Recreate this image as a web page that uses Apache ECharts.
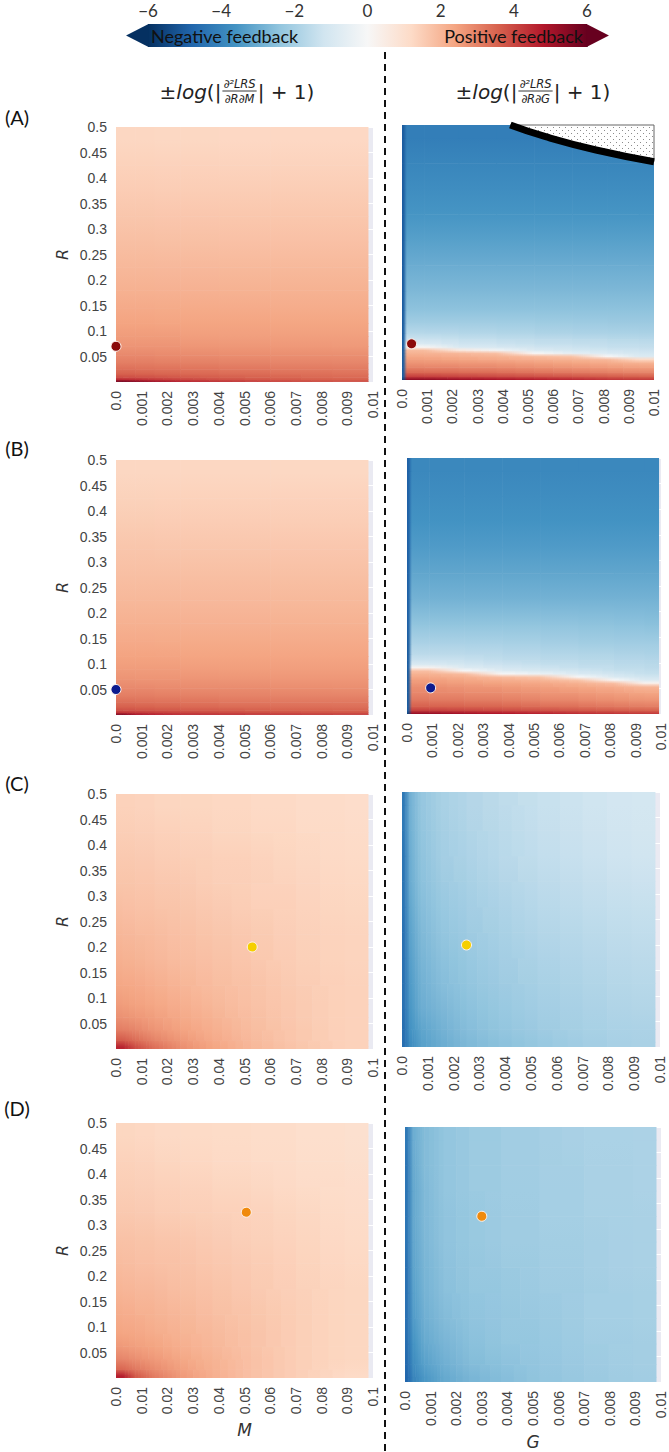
<!DOCTYPE html>
<html>
<head>
<meta charset="utf-8">
<script src="https://cdn.jsdelivr.net/npm/echarts/dist/echarts.min.js"></script>
<style>
  html, body { margin: 0; padding: 0; background: #fff; }
  #chart { width: 669px; height: 1452px; }
</style>
</head>
<body>
<div id="chart"></div>
<script>
// ---- tick labels ----
var xTicksMilli = ['0.0', '0.001', '0.002', '0.003', '0.004', '0.005', '0.006', '0.007', '0.008', '0.009', '0.01'];
var xTicksCenti = ['0.0', '0.01', '0.02', '0.03', '0.04', '0.05', '0.06', '0.07', '0.08', '0.09', '0.1'];
var yTicks = ['', '0.05', '0.1', '0.15', '0.2', '0.25', '0.3', '0.35', '0.4', '0.45', '0.5'];
var cbTicks = ['\u22126', '\u22124', '\u22122', '0', '2', '4', '6'];

// ---- cell edges (M / G along x, R along y) ----
var mEdgesAB = [0, 0.0005, 0.001, 0.002, 0.003, 0.005, 0.007, 0.0098];
var rEdgesLeftAB = [0, 0.003, 0.007, 0.012, 0.02, 0.03, 0.045, 0.06, 0.08, 0.1, 0.13, 0.16, 0.2, 0.25, 0.3, 0.35, 0.4, 0.45, 0.5];
var gEdgesA = [0, 0.00012, 0.00025, 0.0015, 0.003, 0.0045, 0.006, 0.0075, 0.0088, 0.01];
var rEdgesRightA = [0, 0.004, 0.01, 0.02, 0.03, 0.038, 0.044, 0.05, 0.056, 0.062, 0.068, 0.075, 0.085, 0.1, 0.125, 0.15, 0.2, 0.25, 0.3, 0.35, 0.4, 0.45, 0.5];
var gEdgesB = [0, 0.00012, 0.00025, 0.0015, 0.003, 0.0045, 0.006, 0.0075, 0.0088, 0.0099];
var rEdgesRightB = [0, 0.004, 0.01, 0.02, 0.035, 0.05, 0.058, 0.064, 0.07, 0.076, 0.082, 0.088, 0.094, 0.1, 0.11, 0.125, 0.15, 0.2, 0.25, 0.3, 0.35, 0.4, 0.45, 0.5];
var mEdgesCD = [0, 0.005, 0.01, 0.02, 0.03, 0.045, 0.06, 0.08, 0.098];
var rEdgesLeftCD = [0, 0.01, 0.025, 0.05, 0.075, 0.1, 0.15, 0.2, 0.25, 0.3, 0.35, 0.4, 0.45, 0.5];
var gEdgesCD = [0, 0.00015, 0.0005, 0.001, 0.002, 0.003, 0.0045, 0.006, 0.008, 0.0098];
var rEdgesRightCD = [0, 0.02, 0.05, 0.1, 0.15, 0.2, 0.25, 0.3, 0.35, 0.4, 0.45, 0.5];

// ---- values, rows listed from R=0 upwards ----
var valuesALeft = [
  [5.8, 5.5, 5.1, 4.7, 4.4, 4.1, 3.9],
  [4.6, 4.5, 4.3, 4.1, 3.9, 3.75, 3.6],
  [3.95, 3.9, 3.85, 3.75, 3.65, 3.55, 3.45],
  [3.6, 3.6, 3.55, 3.5, 3.45, 3.4, 3.3],
  [3.35, 3.35, 3.3, 3.3, 3.25, 3.2, 3.15],
  [3.1, 3.1, 3.1, 3.05, 3.05, 3.0, 2.95],
  [2.9, 2.9, 2.9, 2.85, 2.85, 2.8, 2.8],
  [2.7, 2.7, 2.7, 2.7, 2.65, 2.65, 2.6],
  [2.55, 2.55, 2.55, 2.55, 2.5, 2.5, 2.5],
  [2.42, 2.42, 2.42, 2.4, 2.4, 2.4, 2.38],
  [2.28, 2.28, 2.28, 2.27, 2.27, 2.26, 2.25],
  [2.14, 2.14, 2.14, 2.13, 2.13, 2.12, 2.12],
  [1.98, 1.98, 1.98, 1.97, 1.97, 1.96, 1.96],
  [1.82, 1.82, 1.82, 1.81, 1.81, 1.8, 1.8],
  [1.67, 1.67, 1.67, 1.66, 1.66, 1.65, 1.65],
  [1.53, 1.53, 1.53, 1.52, 1.52, 1.51, 1.51],
  [1.4, 1.4, 1.4, 1.39, 1.39, 1.38, 1.38],
  [1.28, 1.28, 1.28, 1.27, 1.27, 1.26, 1.26]
];
var valuesARight = [
  [-5.5, 5.3, 5.3, 5.1, 4.9, 4.7, 4.5, 4.3, 4.2],
  [-5.0, 4.2, 4.2, 4.1, 4.0, 3.9, 3.8, 3.7, 3.6],
  [-5.0, 3.5, 3.5, 3.45, 3.4, 3.3, 3.2, 3.1, 3.0],
  [-5.0, 3.0, 3.0, 2.95, 2.9, 2.8, 2.7, 2.6, 2.5],
  [-5.0, 2.7, 2.7, 2.65, 2.6, 2.5, 2.4, 2.25, 2.1],
  [-5.0, 2.5, 2.5, 2.4, 2.3, 2.2, 2.1, 1.95, 1.2],
  [-5.0, 2.3, 2.3, 2.2, 2.1, 1.9, 1.7, 0.0, -0.9],
  [-5.0, 2.1, 2.1, 2.0, 1.8, 0.0, -0.6, -0.9, -1.1],
  [-5.0, 1.9, 1.9, 0.6, -0.2, -0.9, -1.1, -1.2, -1.3],
  [-5.0, 0.1, 0.1, -0.9, -1.0, -1.2, -1.3, -1.4, -1.45],
  [-5.0, -0.9, -0.9, -1.2, -1.3, -1.4, -1.45, -1.5, -1.55],
  [-5.0, -1.3, -1.3, -1.4, -1.5, -1.55, -1.6, -1.65, -1.7],
  [-5.0, -1.7, -1.7, -1.75, -1.8, -1.85, -1.9, -1.9, -1.95],
  [-5.0, -2.1, -2.1, -2.1, -2.1, -2.15, -2.15, -2.2, -2.2],
  [-5.0, -2.45, -2.45, -2.45, -2.45, -2.45, -2.45, -2.45, -2.45],
  [-5.0, -2.7, -2.7, -2.7, -2.7, -2.7, -2.7, -2.7, -2.7],
  [-5.0, -3.0, -3.0, -3.0, -3.0, -3.0, -3.0, -3.0, -3.0],
  [-5.0, -3.3, -3.3, -3.3, -3.3, -3.3, -3.3, -3.3, -3.3],
  [-5.0, -3.55, -3.55, -3.55, -3.55, -3.55, -3.55, -3.55, -3.55],
  [-5.0, -3.75, -3.75, -3.75, -3.75, -3.75, -3.75, -3.75, -3.75],
  [-5.0, -3.95, -3.95, -3.95, -3.95, -3.95, -3.95, -3.95, -3.95],
  [-5.0, -4.15, -4.15, -4.15, -4.15, -4.15, -4.15, -4.15, -4.15]
];
var valuesBLeft = [
  [5.6, 5.0, 4.7, 4.5, 4.4, 4.3, 4.2],
  [4.4, 4.3, 4.2, 4.1, 4.0, 3.9, 3.8],
  [3.9, 3.85, 3.8, 3.75, 3.7, 3.6, 3.55],
  [3.6, 3.6, 3.55, 3.5, 3.45, 3.4, 3.35],
  [3.35, 3.35, 3.3, 3.3, 3.25, 3.2, 3.2],
  [3.1, 3.1, 3.1, 3.05, 3.05, 3.0, 3.0],
  [2.9, 2.9, 2.9, 2.85, 2.85, 2.85, 2.8],
  [2.72, 2.72, 2.7, 2.7, 2.7, 2.68, 2.66],
  [2.56, 2.56, 2.55, 2.55, 2.54, 2.53, 2.52],
  [2.42, 2.42, 2.42, 2.41, 2.4, 2.4, 2.39],
  [2.28, 2.28, 2.28, 2.27, 2.27, 2.27, 2.26],
  [2.14, 2.14, 2.14, 2.14, 2.13, 2.13, 2.12],
  [1.98, 1.98, 1.98, 1.98, 1.97, 1.97, 1.96],
  [1.83, 1.83, 1.83, 1.82, 1.82, 1.82, 1.81],
  [1.68, 1.68, 1.68, 1.67, 1.67, 1.67, 1.66],
  [1.54, 1.54, 1.54, 1.53, 1.53, 1.53, 1.52],
  [1.41, 1.41, 1.41, 1.4, 1.4, 1.4, 1.39],
  [1.29, 1.29, 1.29, 1.28, 1.28, 1.28, 1.27]
];
var valuesBRight = [
  [-5.5, 5.2, 5.2, 5.0, 4.8, 4.6, 4.4, 4.3, 4.2],
  [-5.0, 4.2, 4.2, 4.1, 4.0, 3.9, 3.8, 3.7, 3.6],
  [-5.0, 3.6, 3.6, 3.55, 3.5, 3.4, 3.3, 3.2, 3.1],
  [-5.0, 3.2, 3.2, 3.15, 3.1, 3.0, 2.9, 2.8, 2.7],
  [-5.0, 2.9, 2.9, 2.85, 2.8, 2.7, 2.6, 2.5, 2.35],
  [-5.0, 2.8, 2.8, 2.7, 2.6, 2.5, 2.35, 2.2, 2.0],
  [-5.0, 2.6, 2.6, 2.5, 2.4, 2.3, 2.1, 1.8, 0.2],
  [-5.0, 2.5, 2.5, 2.35, 2.2, 2.05, 1.7, 0.0, -0.9],
  [-5.0, 2.3, 2.3, 2.15, 1.9, 1.7, 0.0, -0.9, -1.2],
  [-5.0, 2.1, 2.1, 1.9, 0.0, -0.4, -0.9, -1.2, -1.4],
  [-5.0, 1.8, 1.8, 0.0, -0.8, -1.0, -1.2, -1.4, -1.5],
  [-5.0, 0.2, 0.2, -0.8, -1.1, -1.25, -1.4, -1.5, -1.6],
  [-5.0, -0.9, -0.9, -1.1, -1.3, -1.4, -1.5, -1.6, -1.65],
  [-5.0, -1.3, -1.3, -1.35, -1.5, -1.6, -1.65, -1.7, -1.75],
  [-5.0, -1.6, -1.6, -1.6, -1.7, -1.75, -1.8, -1.85, -1.9],
  [-5.0, -1.9, -1.9, -1.9, -1.95, -2.0, -2.05, -2.1, -2.1],
  [-4.9, -2.4, -2.4, -2.4, -2.4, -2.4, -2.45, -2.45, -2.5],
  [-4.9, -2.85, -2.85, -2.85, -2.85, -2.85, -2.85, -2.85, -2.85],
  [-4.9, -3.15, -3.15, -3.15, -3.15, -3.15, -3.15, -3.15, -3.15],
  [-4.9, -3.4, -3.4, -3.4, -3.4, -3.4, -3.4, -3.4, -3.4],
  [-4.9, -3.6, -3.6, -3.6, -3.6, -3.6, -3.6, -3.6, -3.6],
  [-4.9, -3.75, -3.75, -3.75, -3.75, -3.75, -3.75, -3.75, -3.75],
  [-4.9, -3.9, -3.9, -3.9, -3.9, -3.9, -3.9, -3.9, -3.9]
];
var valuesCLeft = [
  [4.6, 3.9, 3.3, 2.8, 2.4, 2.0, 1.7, 1.4],
  [3.7, 3.4, 3.0, 2.65, 2.3, 1.95, 1.65, 1.4],
  [3.1, 2.95, 2.7, 2.45, 2.2, 1.9, 1.65, 1.4],
  [2.75, 2.65, 2.5, 2.3, 2.1, 1.85, 1.6, 1.4],
  [2.55, 2.45, 2.35, 2.2, 2.0, 1.8, 1.6, 1.4],
  [2.35, 2.3, 2.2, 2.05, 1.9, 1.75, 1.55, 1.4],
  [2.15, 2.1, 2.0, 1.9, 1.8, 1.65, 1.5, 1.35],
  [2.0, 1.95, 1.9, 1.8, 1.7, 1.6, 1.45, 1.35],
  [1.85, 1.8, 1.75, 1.7, 1.6, 1.5, 1.4, 1.3],
  [1.7, 1.7, 1.65, 1.6, 1.5, 1.45, 1.35, 1.25],
  [1.6, 1.6, 1.55, 1.5, 1.45, 1.4, 1.3, 1.2],
  [1.5, 1.5, 1.45, 1.4, 1.35, 1.3, 1.25, 1.15],
  [1.4, 1.4, 1.35, 1.3, 1.3, 1.25, 1.2, 1.1]
];
var valuesCRight = [
  [-4.6, -3.8, -3.3, -3.0, -2.7, -2.5, -2.3, -2.1, -1.95],
  [-4.6, -3.6, -3.2, -2.9, -2.6, -2.4, -2.2, -2.0, -1.9],
  [-4.5, -3.5, -3.0, -2.75, -2.5, -2.3, -2.1, -1.95, -1.8],
  [-4.5, -3.4, -2.9, -2.6, -2.4, -2.2, -2.0, -1.85, -1.7],
  [-4.5, -3.3, -2.8, -2.5, -2.3, -2.1, -1.9, -1.75, -1.6],
  [-4.5, -3.2, -2.7, -2.4, -2.2, -2.0, -1.8, -1.65, -1.5],
  [-4.4, -3.1, -2.6, -2.3, -2.1, -1.9, -1.7, -1.55, -1.4],
  [-4.4, -3.0, -2.5, -2.2, -2.0, -1.8, -1.6, -1.45, -1.3],
  [-4.4, -2.95, -2.45, -2.1, -1.9, -1.7, -1.5, -1.35, -1.2],
  [-4.3, -2.9, -2.4, -2.05, -1.85, -1.65, -1.45, -1.3, -1.15],
  [-4.3, -2.85, -2.35, -2.0, -1.8, -1.6, -1.4, -1.25, -1.1]
];
var valuesDLeft = [
  [4.7, 3.7, 3.1, 2.6, 2.2, 1.8, 1.5, 1.2],
  [3.5, 3.2, 2.85, 2.5, 2.15, 1.8, 1.5, 1.25],
  [2.95, 2.8, 2.6, 2.35, 2.1, 1.8, 1.5, 1.3],
  [2.6, 2.5, 2.4, 2.2, 2.0, 1.75, 1.5, 1.3],
  [2.4, 2.35, 2.25, 2.1, 1.95, 1.75, 1.5, 1.3],
  [2.25, 2.2, 2.1, 2.0, 1.85, 1.7, 1.5, 1.3],
  [2.05, 2.0, 1.95, 1.85, 1.75, 1.6, 1.45, 1.3],
  [1.9, 1.85, 1.8, 1.75, 1.65, 1.55, 1.4, 1.25],
  [1.75, 1.75, 1.7, 1.65, 1.55, 1.45, 1.35, 1.2],
  [1.6, 1.6, 1.55, 1.5, 1.45, 1.4, 1.3, 1.15],
  [1.5, 1.5, 1.45, 1.4, 1.35, 1.3, 1.2, 1.1],
  [1.4, 1.4, 1.35, 1.3, 1.25, 1.2, 1.15, 1.05],
  [1.3, 1.3, 1.25, 1.2, 1.2, 1.15, 1.1, 1.0]
];
var valuesDRight = [
  [-4.8, -4.0, -3.5, -3.1, -2.8, -2.6, -2.4, -2.25, -2.1],
  [-4.7, -3.8, -3.3, -2.95, -2.65, -2.5, -2.35, -2.2, -2.05],
  [-4.6, -3.6, -3.1, -2.8, -2.55, -2.4, -2.3, -2.15, -2.05],
  [-4.5, -3.4, -2.95, -2.65, -2.45, -2.35, -2.25, -2.1, -2.0],
  [-4.5, -3.3, -2.85, -2.55, -2.4, -2.3, -2.2, -2.1, -2.0],
  [-4.5, -3.2, -2.8, -2.5, -2.35, -2.25, -2.15, -2.05, -1.95],
  [-4.4, -3.15, -2.75, -2.45, -2.3, -2.2, -2.1, -2.05, -1.95],
  [-4.4, -3.1, -2.7, -2.45, -2.3, -2.2, -2.1, -2.0, -1.95],
  [-4.4, -3.1, -2.7, -2.4, -2.25, -2.15, -2.1, -2.0, -1.9],
  [-4.4, -3.05, -2.65, -2.4, -2.25, -2.15, -2.05, -2.0, -1.9],
  [-4.3, -3.0, -2.65, -2.4, -2.25, -2.15, -2.05, -1.95, -1.9]
];

// undefined region (hatched) in panel A right, edge as (G, R)
var hatchEdge = [[0.0043, 0.5], [0.0057, 0.477], [0.0077, 0.451], [0.01, 0.428]];

// highlighted points (x, R) per row
var dotsLeft = [[0.0, 0.07], [0.0, 0.05], [0.053, 0.2], [0.0507, 0.325]];
var dotsRight = [[0.00038, 0.071], [0.00093, 0.051], [0.0025, 0.2], [0.003, 0.325]];

// ---- styles / layout ----
var palette = ['#053061', '#2166ac', '#4393c3', '#92c5de', '#d1e5f0', '#f7f7f7',
               '#fddbc7', '#f4a582', '#d6604d', '#b2182b', '#67001f'];
var dotColors = ['#8b0a0a', '#0d1b8e', '#f5cf00', '#f08a0c'];
var tickColor = '#444';
var boxes = [
  {left: 116, top: 127, width: 257, height: 255},
  {left: 402, top: 125, width: 252, height: 255},
  {left: 116, top: 460, width: 257, height: 255},
  {left: 407, top: 458, width: 254, height: 256},
  {left: 116, top: 794, width: 257, height: 255},
  {left: 402, top: 792, width: 258, height: 255},
  {left: 116, top: 1123, width: 257, height: 255},
  {left: 405, top: 1127, width: 256, height: 255}
];

var panels = [
  {xEdges: mEdgesAB, yEdges: rEdgesLeftAB, values: valuesALeft, xMax: 0.01, xStep: 0.001, xLabels: xTicksMilli, dot: dotsLeft[0]},
  {xEdges: gEdgesA, yEdges: rEdgesRightA, values: valuesARight, xMax: 0.01, xStep: 0.001, xLabels: xTicksMilli, dot: dotsRight[0]},
  {xEdges: mEdgesAB, yEdges: rEdgesLeftAB, values: valuesBLeft, xMax: 0.01, xStep: 0.001, xLabels: xTicksMilli, dot: dotsLeft[1]},
  {xEdges: gEdgesB, yEdges: rEdgesRightB, values: valuesBRight, xMax: 0.01, xStep: 0.001, xLabels: xTicksMilli, dot: dotsRight[1]},
  {xEdges: mEdgesCD, yEdges: rEdgesLeftCD, values: valuesCLeft, xMax: 0.1, xStep: 0.01, xLabels: xTicksCenti, dot: dotsLeft[2]},
  {xEdges: gEdgesCD, yEdges: rEdgesRightCD, values: valuesCRight, xMax: 0.01, xStep: 0.001, xLabels: xTicksMilli, dot: dotsRight[2]},
  {xEdges: mEdgesCD, yEdges: rEdgesLeftCD, values: valuesDLeft, xMax: 0.1, xStep: 0.01, xLabels: xTicksCenti, dot: dotsLeft[3], xName: 'M', xNameGap: 43},
  {xEdges: gEdgesCD, yEdges: rEdgesRightCD, values: valuesDRight, xMax: 0.01, xStep: 0.001, xLabels: xTicksMilli, dot: dotsRight[3], xName: 'G', xNameGap: 51}
];

function buildCells(xEdges, yEdges, rows) {
  var out = [];
  for (var r = 0; r < rows.length; r++) {
    for (var c = 0; c < rows[r].length; c++) {
      out.push([xEdges[c], xEdges[c + 1], yEdges[r], yEdges[r + 1], rows[r][c]]);
    }
  }
  return out;
}

function colorGap(a, b) {
  var p = echarts.color.parse(a), q = echarts.color.parse(b);
  return Math.max(Math.abs(p[0] - q[0]), Math.abs(p[1] - q[1]), Math.abs(p[2] - q[2]));
}

// shade the area between cell centres (bilinear look), colours come from the visualMap
function addQuad(out, api, xa, xb, ya, yb, c00, c10, c01, c11) {
  var p0 = api.coord([xa, yb]);
  var p1 = api.coord([xb, ya]);
  var w = p1[0] - p0[0], h = p1[1] - p0[1];
  if (w <= 0.01 || h <= 0.01) return;
  var diff = Math.max(colorGap(c00, c10), colorGap(c01, c11));
  var k = Math.max(1, Math.min(Math.ceil(w / 1.5), Math.ceil(diff / 5)));
  for (var s = 0; s < k; s++) {
    var t = (s + 0.5) / k;
    var bottom = echarts.color.lerp(t, [c00, c10]);
    var top = echarts.color.lerp(t, [c01, c11]);
    var fill = colorGap(bottom, top) < 1 ? bottom :
      new echarts.graphic.LinearGradient(0, 1, 0, 0, [{offset: 0, color: bottom}, {offset: 1, color: top}]);
    out.push({type: 'rect', shape: {x: p0[0] + w * s / k, y: p0[1], width: w / k + 0.6, height: h + 0.6}, style: {fill: fill}});
  }
}

function makeFieldRenderer(xEdges, yEdges, nCols, nRows) {
  function mid(e, k) { return (e[k] + e[k + 1]) / 2; }
  return function (params, api) {
    var idx = params.dataIndexInside;
    var r = Math.floor(idx / nCols), c = idx % nCols;
    var cR = c < nCols - 1 ? c + 1 : c, rU = r < nRows - 1 ? r + 1 : r;
    var xA = mid(xEdges, c), xB = c < nCols - 1 ? mid(xEdges, c + 1) : xEdges[nCols];
    var yA = mid(yEdges, r), yB = r < nRows - 1 ? mid(yEdges, r + 1) : yEdges[nRows];
    var c00 = api.visual('color', r * nCols + c), c10 = api.visual('color', r * nCols + cR);
    var c01 = api.visual('color', rU * nCols + c), c11 = api.visual('color', rU * nCols + cR);
    var kids = [];
    if (r === 0 && c === 0) addQuad(kids, api, xEdges[0], xA, yEdges[0], yA, c00, c00, c00, c00);
    if (r === 0) addQuad(kids, api, xA, xB, yEdges[0], yA, c00, c10, c00, c10);
    if (c === 0) addQuad(kids, api, xEdges[0], xA, yA, yB, c00, c00, c01, c01);
    addQuad(kids, api, xA, xB, yA, yB, c00, c10, c01, c11);
    return {type: 'group', children: kids};
  };
}

var myChart = echarts.init(document.getElementById('chart'), null, {renderer: 'svg'});

var option = {
  animation: false,
  backgroundColor: '#fff',
  grid: [], xAxis: [], yAxis: [], series: [],
  visualMap: {
    type: 'continuous', show: false, min: -6, max: 6, dimension: 4,
    seriesIndex: [], inRange: {color: palette}
  }
};

panels.forEach(function (p, i) {
  var isLeft = i % 2 === 0;
  option.grid.push(Object.assign({show: true, backgroundColor: '#eaeaf2', borderWidth: 0}, boxes[i]));
  option.xAxis.push({
    type: 'value', gridIndex: i, min: 0, max: p.xMax, interval: p.xStep,
    axisLine: {show: false}, axisTick: {show: false}, splitLine: {show: false},
    axisLabel: {
      rotate: 90, margin: 9, fontSize: 14, fontFamily: 'Liberation Sans', color: tickColor,
      showMinLabel: true, showMaxLabel: true, hideOverlap: false,
      formatter: function (v) { return p.xLabels[Math.round(v / p.xStep)]; }
    },
    name: p.xName || '', nameLocation: 'middle', nameGap: p.xNameGap || 0,
    nameTextStyle: {fontFamily: 'DejaVu Sans', fontStyle: 'italic', fontSize: 17, color: '#333'}
  });
  option.yAxis.push({
    type: 'value', gridIndex: i, min: 0, max: 0.5, interval: 0.05,
    axisLine: {show: false}, axisTick: {show: false},
    splitLine: {show: true, lineStyle: {color: '#ffffff', width: 1}},
    axisLabel: {
      show: isLeft, margin: 9, fontSize: 14, fontFamily: 'Liberation Sans', color: tickColor,
      formatter: function (v) { return yTicks[Math.round(v / 0.05)]; }
    },
    name: isLeft ? 'R' : '', nameLocation: 'middle', nameGap: 46,
    nameTextStyle: {fontFamily: 'DejaVu Sans', fontStyle: 'italic', fontSize: 16, color: '#333'}
  });
  option.visualMap.seriesIndex.push(option.series.length);
  option.series.push({
    type: 'custom', xAxisIndex: i, yAxisIndex: i, silent: true, z: 1, clip: true,
    data: buildCells(p.xEdges, p.yEdges, p.values),
    encode: {x: [0, 1], y: [2, 3]},
    renderItem: makeFieldRenderer(p.xEdges, p.yEdges, p.xEdges.length - 1, p.yEdges.length - 1)
  });
  option.series.push({
    type: 'scatter', xAxisIndex: i, yAxisIndex: i, z: 6, silent: true,
    data: [p.dot], symbolSize: 10,
    itemStyle: {color: dotColors[Math.floor(i / 2)], borderColor: '#fff4ee', borderWidth: 1, opacity: 1}
  });
});

// hatched (undefined) region in panel A right
var tile = document.createElement('canvas');
tile.width = 6; tile.height = 6;
var tg = tile.getContext('2d');
tg.fillStyle = '#ffffff'; tg.fillRect(0, 0, 6, 6);
tg.fillStyle = '#8c8c8c'; tg.fillRect(1, 1, 1, 1); tg.fillRect(4, 4, 1, 1);

option.series.push({
  type: 'custom', xAxisIndex: 1, yAxisIndex: 1, silent: true, z: 3,
  data: [[0.01, 0.5]],
  renderItem: function (params, api) {
    var pts = hatchEdge.map(function (d) { return api.coord(d); });
    pts.push(api.coord([api.value(0), api.value(1)]));
    return {
      type: 'polygon', shape: {points: pts},
      style: {fill: {image: tile, repeat: 'repeat', imageWidth: 6, imageHeight: 6}, stroke: '#666', lineWidth: 1}
    };
  }
});
option.series.push({
  type: 'line', xAxisIndex: 1, yAxisIndex: 1, z: 4, silent: true,
  data: hatchEdge, smooth: true, symbol: 'none',
  lineStyle: {color: '#000', width: 7}
});

// colour bar
option.grid.push({left: 148, top: 24, width: 439, height: 23});
option.xAxis.push({
  type: 'value', gridIndex: 8, min: -6, max: 6, interval: 2, position: 'top',
  axisLine: {show: false}, splitLine: {show: false},
  axisTick: {show: true, length: 3, lineStyle: {color: '#666'}},
  axisLabel: {
    margin: 5, fontSize: 17, fontFamily: 'Lato', color: '#333',
    formatter: function (v) { return cbTicks[Math.round((v + 6) / 2)]; }
  }
});
option.yAxis.push({type: 'value', gridIndex: 8, min: 0, max: 1, show: false});
option.series.push({
  type: 'custom', xAxisIndex: 8, yAxisIndex: 8, silent: true, z: 1,
  data: [[-6, 6]],
  renderItem: function (params, api) {
    var a = api.coord([api.value(0), 0]);
    var b = api.coord([api.value(1), 1]);
    var x0 = a[0], x1 = b[0], yb = a[1], yt = b[1];
    var ext = (x1 - x0) * 0.05, ym = (yt + yb) / 2;
    var stops = palette.map(function (c, k) { return {offset: k / (palette.length - 1), color: c}; });
    return {
      type: 'group',
      children: [
        {type: 'rect', shape: {x: x0, y: yt, width: x1 - x0, height: yb - yt},
         style: {fill: new echarts.graphic.LinearGradient(0, 0, 1, 0, stops)}},
        {type: 'polygon', shape: {points: [[x0 + 0.5, yt], [x0 - ext, ym], [x0 + 0.5, yb]]}, style: {fill: palette[0]}},
        {type: 'polygon', shape: {points: [[x1 - 0.5, yt], [x1 + ext, ym], [x1 - 0.5, yb]]}, style: {fill: palette[palette.length - 1]}}
      ]
    };
  }
});

// ---- titles & annotations ----
var mctx = document.createElement('canvas').getContext('2d');
function textWidth(s, font) { mctx.font = font; return mctx.measureText(s).width; }

function mathTitle(cx, cy, den) {
  var fBig = '20px "DejaVu Sans"', fBigI = 'italic 20px "DejaVu Sans"', fSm = 'italic 11.5px "DejaVu Sans"';
  var num = '\u2202\u00b2LRS';
  var head = [['\u00b1', fBig], ['log', fBigI], ['(|', fBig]];
  var tail = '| + 1)';
  var fracW = Math.max(textWidth(num, fSm), textWidth(den, fSm)) + 4;
  var w = 0;
  head.forEach(function (h) { w += textWidth(h[0], h[1]); });
  var total = w + fracW + textWidth(tail, fBig);
  var x = cx - total / 2;
  var els = [];
  function txt(s, font, tx, ty, align, valign) {
    return {type: 'text', x: tx, y: ty, silent: true,
      style: {text: s, font: font, fill: '#222', align: align, textAlign: align, verticalAlign: valign, textVerticalAlign: valign}};
  }
  head.forEach(function (h) {
    els.push(txt(h[0], h[1], x, cy, 'left', 'middle'));
    x += textWidth(h[0], h[1]);
  });
  var fy = cy - 1;
  els.push(txt(num, fSm, x + fracW / 2, fy - 1, 'center', 'bottom'));
  els.push({type: 'line', silent: true, shape: {x1: x + 1, y1: fy, x2: x + fracW - 1, y2: fy}, style: {stroke: '#222', lineWidth: 0.9}});
  els.push(txt(den, fSm, x + fracW / 2, fy + 1.5, 'center', 'top'));
  x += fracW;
  els.push(txt(tail, fBig, x, cy, 'left', 'middle'));
  return els;
}

var panelLabels = ['(A)', '(B)', '(C)', '(D)'];
var panelLabelY = [117, 448, 783, 1108];
var graphics = [];
graphics = graphics.concat(mathTitle(237, 92, '\u2202R\u2202M'));
graphics = graphics.concat(mathTitle(533, 92, '\u2202R\u2202G'));
panelLabels.forEach(function (s, k) {
  graphics.push({type: 'text', x: 17, y: panelLabelY[k], silent: true,
    style: {text: s, font: '20px Lato', fill: '#111', align: 'center', textAlign: 'center', verticalAlign: 'middle', textVerticalAlign: 'middle'}});
});
graphics.push({type: 'text', x: 151, y: 36, silent: true, z: 10,
  style: {text: 'Negative feedback', font: '18px Lato', fill: '#111', align: 'left', textAlign: 'left', verticalAlign: 'middle', textVerticalAlign: 'middle'}});
graphics.push({type: 'text', x: 583, y: 36, silent: true, z: 10,
  style: {text: 'Positive feedback', font: '18px Lato', fill: '#111', align: 'right', textAlign: 'right', verticalAlign: 'middle', textVerticalAlign: 'middle'}});
graphics.push({type: 'line', silent: true, shape: {x1: 385, y1: 52, x2: 385, y2: 1452},
  style: {stroke: '#111', lineWidth: 2, lineDash: [7, 5]}});

option.graphic = {elements: graphics};

myChart.setOption(option);
</script>
</body>
</html>
